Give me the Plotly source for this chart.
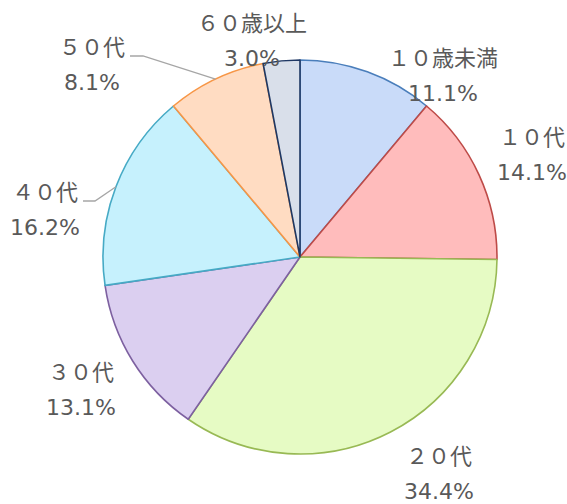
import math
import plotly.graph_objects as go

labels = ["１０歳未満", "１０代", "２０代", "３０代", "４０代", "５０代", "６０歳以上"]
values = [11.1, 14.1, 34.4, 13.1, 16.2, 8.1, 3.0]
fill_colors = ["#c9dbf9", "#ffbcbc", "#e6fbc4", "#dbcff0", "#c6f1fd", "#ffdcc2", "#d9dfea"]
line_colors = ["#4a7ebb", "#be4b48", "#98b954", "#7d60a0", "#46aac5", "#f79646", "#1f3864"]

W, H = 567, 504
cx, cy, R = 300, 257, 197

# label block centres (pixels) and leader-line layout
label_pos = [(443, 76), (532, 155), (439, 474), (81, 390), (45, 210), (92, 65), (252, 41)]
leaders = {4: (83, 95, 201), 5: (130, 143, 56)}  # index: (start x, elbow x, y)

def px(x):
    return x / W

def py(y):
    return 1 - y / H

fig = go.Figure(go.Pie(
    labels=labels,
    values=values,
    sort=False,
    direction="clockwise",
    rotation=0,
    automargin=False,
    marker=dict(colors=fill_colors, line=dict(color=line_colors, width=1.6)),
    textinfo="none",
    showlegend=False,
    hoverinfo="label+percent",
    domain=dict(x=[px(cx - R), px(cx + R)], y=[py(cy + R), py(cy - R)]),
))

annotations = []
for lab, val, (lx, ly) in zip(labels, values, label_pos):
    annotations.append(dict(
        x=px(lx), y=py(ly), xref="paper", yref="paper",
        xanchor="center", yanchor="middle", showarrow=False,
        text=f"<span style='font-size:22px'>{lab}</span><br><span style='font-size:22px'>{val:.1f}%</span>",
        font=dict(family="DejaVu Sans, Noto Sans CJK JP", size=27, color="#595959"),
    ))

total = sum(values)
shapes = []
cum = 0.0
for i, v in enumerate(values):
    mid = (cum + v / 2) / total * 2 * math.pi
    cum += v
    if i in leaders:
        sx, ex, ly = leaders[i]
        ex2 = cx + R * math.sin(mid)
        ey2 = cy - R * math.cos(mid)
        shapes.append(dict(
            type="path", xref="paper", yref="paper",
            path=f"M {px(sx)} {py(ly)} L {px(ex)} {py(ly)} L {px(ex2)} {py(ey2)}",
            line=dict(color="#a6a6a6", width=1.3),
        ))

fig.update_layout(
    width=W, height=H,
    margin=dict(l=0, r=0, t=0, b=0, autoexpand=False),
    paper_bgcolor="white",
    plot_bgcolor="white",
    font=dict(family="DejaVu Sans, Noto Sans CJK JP", color="#595959"),
    annotations=annotations,
    shapes=shapes,
)

fig.write_html("out.html", config={"displayModeBar": False},
               post_script="document.body.style.margin='0px';")
